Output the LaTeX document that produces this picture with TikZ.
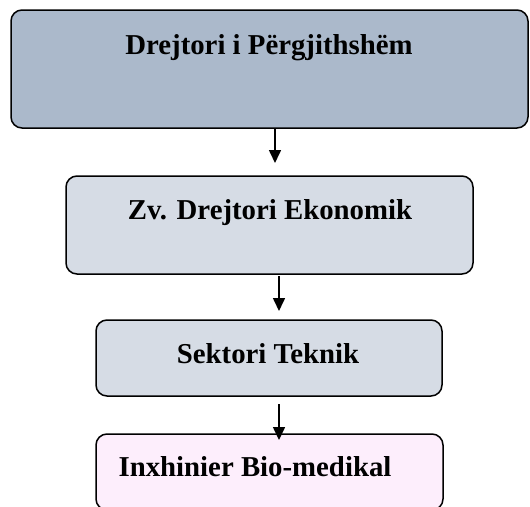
\documentclass[tikz,border=0pt]{standalone}
\usepackage{fontspec}
\setmainfont{Liberation Serif}
\usetikzlibrary{arrows.meta}
\definecolor{topfill}{HTML}{ABB9CB}
\definecolor{midfill}{HTML}{D6DCE5}
\definecolor{pinkfill}{HTML}{FDEEFC}
\tikzset{
  orgbox/.style={draw=black, line width=1.5pt, rounded corners=11pt, inner sep=0pt, outer sep=0pt},
  orgtext/.style={anchor=base, inner sep=0pt, font=\fontsize{28.8}{32}\selectfont\bfseries},
  orgarrow/.style={line width=1.6pt, -{Triangle[length=13pt,width=12pt]}}
}
\begin{document}
\begin{tikzpicture}[x=1pt,y=-1pt]
\useasboundingbox (0,0) rectangle (530,506);
\clip (0,0) rectangle (530,506);
% boxes
\node[orgbox, fill=topfill, minimum width=517pt, minimum height=118pt] (b1) at (269.5,69) {};
\node[orgbox, fill=midfill, minimum width=407pt, minimum height=98pt] (b2) at (269.5,225) {};
\node[orgbox, fill=midfill, minimum width=346pt, minimum height=76pt] (b3) at (269,358) {};
\node[orgbox, fill=pinkfill, minimum width=347pt, minimum height=76pt] (b4) at (269.5,472) {};
% texts
\node[orgtext] (t1) at (269,54) {Drejtori i Përgjithshëm};
\node[orgtext] (t2) at (270,219) {Zv. Drejtori Ekonomik};
\node[orgtext] (t3) at (268,363) {Sektori Teknik};
\node[orgtext] (t4) at (255,476) {Inxhinier Bio-medikal};
% arrows
\coordinate (e1) at (275,163);
\coordinate (s2) at (279,276);
\coordinate (e2) at (279,311);
\coordinate (s3) at (279,404);
\coordinate (e3) at (279,440);
\draw[orgarrow] (b1.south -| e1) -- (e1);
\draw[orgarrow] (s2) -- (e2);
\draw[orgarrow] (s3) -- (e3);
\end{tikzpicture}
\end{document}
